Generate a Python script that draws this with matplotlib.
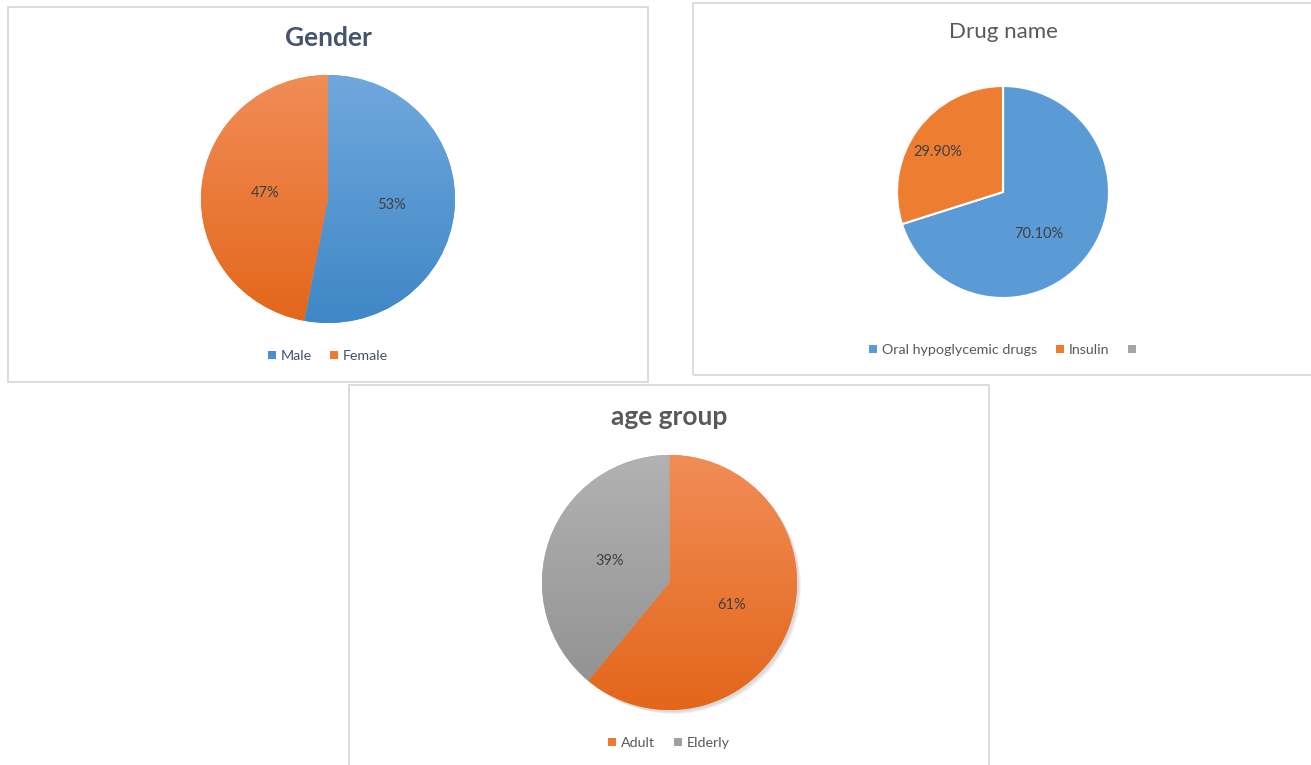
import numpy as np
import matplotlib
matplotlib.use("Agg")
import matplotlib.pyplot as plt
from matplotlib.patches import Rectangle, Patch
from matplotlib.colors import LinearSegmentedColormap

plt.rcParams['font.family'] = ['Lato', 'DejaVu Sans']

# ---------------- data ----------------
gender_labels = ["Male", "Female"]
gender_values = [53, 47]
gender_pct = ["53%", "47%"]

drug_labels = ["Oral hypoglycemic drugs", "Insulin", ""]
drug_values = [70.10, 29.90, 0.0]
drug_pct = ["70.10%", "29.90%", ""]

age_labels = ["Adult", "Elderly"]
age_values = [61, 39]
age_pct = ["61%", "39%"]

W, H = 1311, 765
fig = plt.figure(figsize=(W / 100, H / 100), dpi=100)
fig.patch.set_facecolor("white")


def fx(x):
    return x / W


def fy(y):
    return 1 - y / H


def border(x0, y0, x1, y1):
    fig.patches.append(Rectangle((fx(x0), fy(y1)), fx(x1 - x0), (y1 - y0) / H,
                                 transform=fig.transFigure, fill=False,
                                 edgecolor="#d9d9d9", linewidth=1.3, zorder=0))


border(7.5, 7.5, 648, 381.5)
border(693, 3, 1316, 375)
border(349, 385, 989, 770)


def pie_axes(x0, y0, x1, y1):
    ax = fig.add_axes([fx(x0), fy(y1), fx(x1 - x0), (y1 - y0) / H])
    ax.set_xlim(-1, 1)
    ax.set_ylim(-1, 1)
    ax.set_aspect("auto")
    ax.axis("off")
    return ax


def draw_pie(ax, values, pct, colors, grads, dists, edge=None, lw=0):
    total = sum(values)
    wedges, _ = ax.pie(values, colors=colors, startangle=90, counterclock=False,
                       radius=1, wedgeprops=dict(edgecolor=edge if edge else "none",
                                                 linewidth=lw))
    ax.set_xlim(-1, 1)
    ax.set_ylim(-1, 1)
    ax.set_aspect("auto")
    # gradient fills
    for w, g in zip(wedges, grads):
        if g is None:
            continue
        cmap = LinearSegmentedColormap.from_list("g", [g[0], g[1]])
        grad = np.linspace(0, 1, 256).reshape(-1, 1)
        im = ax.imshow(grad, cmap=cmap, extent=[-1, 1, -1, 1], origin="upper",
                       aspect="auto", zorder=w.get_zorder() + 0.1)
        im.set_clip_path(w)
    ax.set_xlim(-1, 1)
    ax.set_ylim(-1, 1)
    # percentage labels
    cum = 0
    for v, p, d in zip(values, pct, dists):
        if v <= 0:
            continue
        mid = 90 - (cum + v / 2) / total * 360
        cum += v
        a = np.deg2rad(mid + d[1])
        ax.text(d[0] * np.cos(a), d[0] * np.sin(a), p, ha="center", va="center",
                fontsize=10.5, color="#404040", zorder=10)
    return wedges


def legend(ax, labels, colors, cx, cy, tcolor):
    handles = [Patch(facecolor=c, edgecolor="none", label=l) for l, c in zip(labels, colors)]
    fig.legend(handles=handles, loc="center", bbox_to_anchor=(fx(cx), fy(cy)),
               ncol=len(handles), frameon=False, fontsize=10.3, labelcolor=tcolor,
               handlelength=0.55, handleheight=0.55, handletextpad=0.35,
               columnspacing=1.3)


blue = "#5b9bd5"
orange = "#ed7d31"
gray = "#a5a5a5"

# ---- Gender ----
ax1 = pie_axes(201, 75, 455, 323)
draw_pie(ax1, gender_values, gender_pct, [blue, orange],
         [("#70a8dd", "#3f87c6"), ("#f18d57", "#e3661a")],
         [(0.5, 0), (0.5, 0)])
fig.text(fx(328), fy(38), "Gender", ha="center", va="center", fontsize=19,
         fontweight="bold", color="#44546a")
legend(ax1, gender_labels, ["#4a90d0", "#ef7a2e"], 328, 356, "#44546a")

# ---- Drug name ----
ax2 = pie_axes(897, 86, 1109, 298)
draw_pie(ax2, drug_values, drug_pct, [blue, orange, gray], [None, None, None],
         [(0.52, -13), (0.72, 5)], edge="white", lw=1.5)
fig.text(fx(1003), fy(32), "Drug name", ha="center", va="center", fontsize=16,
         color="#595959")
legend(ax2, drug_labels, [blue, orange, gray], 1005, 350, "#595959")

# ---- age group ----
ax3 = pie_axes(542, 455, 797, 710)
# subtle shadow
for k, al in enumerate([0.05, 0.05, 0.05]):
    sh = fig.add_axes([fx(542 + 2 + k), fy(710 + 2 + k), fx(255), 255 / H])
    sh.set_xlim(-1, 1)
    sh.set_ylim(-1, 1)
    sh.axis("off")
    sh.pie([1], colors=["#000000"], radius=1, wedgeprops=dict(alpha=al))
    sh.set_xlim(-1, 1)
    sh.set_ylim(-1, 1)
    sh.set_aspect("auto")
    sh.set_zorder(-1)
draw_pie(ax3, age_values, age_pct, [orange, gray],
         [("#f18d57", "#e3661a"), ("#b2b2b2", "#8f8f8f")],
         [(0.52, 0), (0.5, 0)])
fig.text(fx(669), fy(417), "age group", ha="center", va="center", fontsize=19,
         fontweight="bold", color="#595959")
legend(ax3, age_labels, ["#ef7a2e", "#a0a0a0"], 669, 743, "#595959")

fig.savefig("out.png", dpi=100, facecolor="white")
